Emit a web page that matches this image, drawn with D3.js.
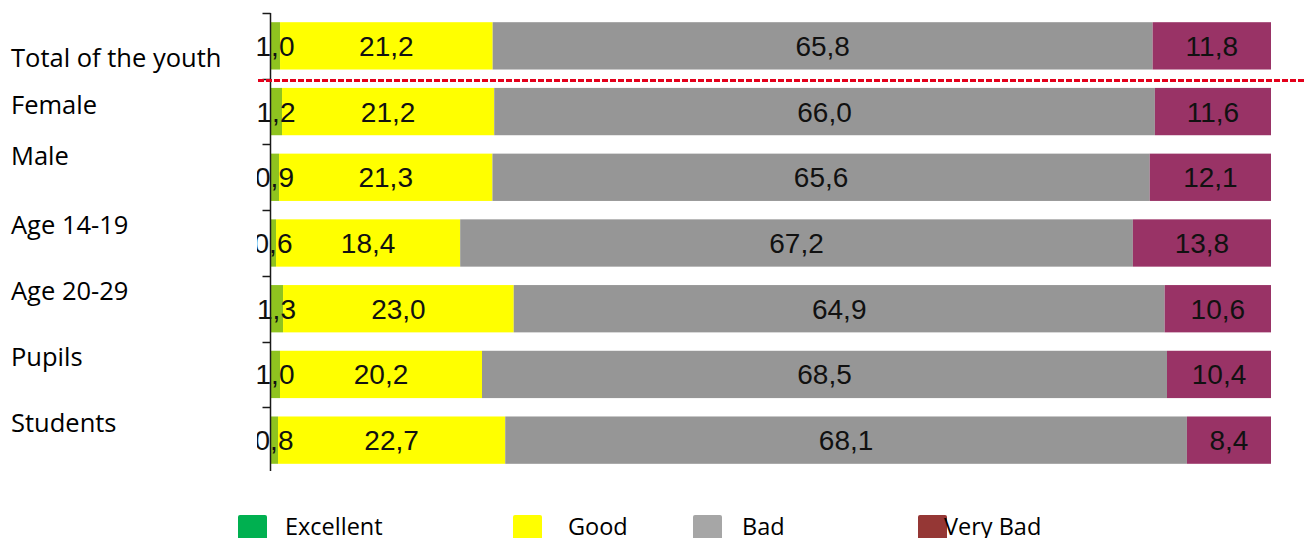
<!DOCTYPE html>
<html>
<head>
<meta charset="utf-8">
<script src="https://cdn.jsdelivr.net/npm/d3@7"></script>
<style>
  html, body { margin: 0; padding: 0; background: #ffffff; }
  svg { display: block; }
</style>
</head>
<body>
<svg id="chart" width="1306" height="538"></svg>
<script>
// Youth assessment shares (%) by group
const categories = ["Total of the youth", "Female", "Male", "Age 14-19", "Age 20-29", "Pupils", "Students"];
const seriesNames = ["Excellent", "Good", "Bad", "Very Bad"];
const excellent = [1.0, 1.2, 0.9, 0.6, 1.3, 1.0, 0.8];
const good      = [21.2, 21.2, 21.3, 18.4, 23.0, 20.2, 22.7];
const bad       = [65.8, 66.0, 65.6, 67.2, 64.9, 68.5, 68.1];
const veryBad   = [11.8, 11.6, 12.1, 13.8, 10.6, 10.4, 8.4];

const barColors    = ["#8fc31f", "#ffff00", "#969696", "#993366"];
const legendColors = ["#00b050", "#ffff00", "#a6a6a6", "#953735"];

const svg = d3.select("#chart");
const W = 1306, H = 538;

const x = d3.scaleLinear().domain([0, 100]).range([270, 1271]);
const y = d3.scaleBand().domain(categories).range([13, 473])
  .paddingInner(0.28).paddingOuter(0.14);

// Rows as 100% stacks
const rows = categories.map((c, i) => {
  const vals = [excellent[i], good[i], bad[i], veryBad[i]];
  const sum = d3.sum(vals);
  const o = { category: c };
  seriesNames.forEach((s, k) => { o[s] = vals[k] / sum * 100; o[s + "_raw"] = vals[k]; });
  return o;
});
const stacked = d3.stack().keys(seriesNames)(rows);

const fmt = v => d3.format(".1f")(v).replace(".", ",");

// Bars
const layers = svg.append("g").selectAll("g")
  .data(stacked).join("g")
  .attr("fill", (d, i) => barColors[i]);

layers.selectAll("rect")
  .data(d => d.map(p => ({ p, key: d.key })))
  .join("rect")
  .attr("x", d => x(d.p[0]))
  .attr("y", d => y(d.p.data.category))
  .attr("width", d => x(d.p[1]) - x(d.p[0]))
  .attr("height", y.bandwidth());

// Value labels (clipped on the left edge of the plot)
svg.append("defs").append("clipPath").attr("id", "plotClip")
  .append("rect").attr("x", 257).attr("y", 0).attr("width", W - 257).attr("height", H);

const labels = svg.append("g").attr("clip-path", "url(#plotClip)")
  .attr("font-family", "Liberation Sans, Arial, sans-serif")
  .attr("font-size", 28)
  .attr("fill", "#111111")
  .attr("text-anchor", "middle");

stacked.forEach(layer => {
  labels.selectAll(null)
    .data(layer)
    .join("text")
    .attr("x", p => x((p[0] + p[1]) / 2))
    .attr("y", p => y(p.data.category) + y.bandwidth() / 2 + 10)
    .text(p => fmt(p.data[layer.key + "_raw"]));
});

// Category axis: line with ticks between rows
const axisX = 270.5;
const axis = svg.append("g").attr("stroke", "#1a1a1a").attr("stroke-width", 1.5);
axis.append("line").attr("x1", axisX).attr("x2", axisX).attr("y1", 13).attr("y2", 471);
const boundaries = d3.range(categories.length).map(i => Math.round(y.range()[0] + i * y.step()) + 0.5);
axis.selectAll(null).data(boundaries).join("line")
  .attr("x1", axisX - 8).attr("x2", axisX)
  .attr("y1", d => d).attr("y2", d => d);

// Separator between the total and the sub-groups
const sepY = Math.round((y(categories[0]) + y.bandwidth() + y(categories[1])) / 2) + 1.5;
svg.append("line")
  .attr("x1", 258).attr("x2", W)
  .attr("y1", sepY).attr("y2", sepY)
  .attr("stroke", "#e3001b").attr("stroke-width", 3)
  .attr("stroke-dasharray", "6,2");

// Category names
const labelBaselines = [67, 114, 165, 234, 300, 366, 432];
svg.append("g")
  .attr("font-family", "'Open Sans', sans-serif")
  .attr("font-size", 25.5)
  .attr("fill", "#000000")
  .selectAll("text").data(categories).join("text")
  .attr("x", 11)
  .attr("y", (d, i) => labelBaselines[i])
  .text(d => d);

// Legend
const legendSwatchX = [238, 513, 693, 918];
const legendTextX = [285, 568, 742, 944];
const legend = svg.append("g")
  .attr("font-family", "'Open Sans', sans-serif")
  .attr("font-size", 23.5);
seriesNames.forEach((s, i) => {
  legend.append("rect")
    .attr("x", legendSwatchX[i]).attr("y", 515)
    .attr("width", 29).attr("height", 30)
    .attr("rx", 2)
    .attr("fill", legendColors[i]);
  legend.append("text")
    .attr("x", legendTextX[i]).attr("y", 535)
    .attr("fill", "#000000")
    .text(s);
});
</script>
</body>
</html>
